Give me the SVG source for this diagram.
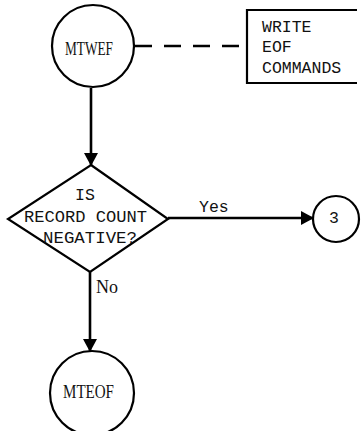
<svg xmlns="http://www.w3.org/2000/svg" width="361" height="431" viewBox="0 0 361 431">
<defs>
<style>
.shape{fill:none;stroke:#000;stroke-width:2.2}
.conn{fill:none;stroke:#000;stroke-width:2.6}
.mono{font-family:"Liberation Mono","Courier New",monospace;font-size:16.5px;fill:#111}
.serif{font-family:"Liberation Serif","Times New Roman",serif;font-size:18px;fill:#111}
</style>
<marker id="ah" markerWidth="16" markerHeight="14" refX="12" refY="7" orient="auto" markerUnits="userSpaceOnUse">
<path d="M0,0 L13,7 L0,14 Z" fill="#000"/>
</marker>
</defs>
<rect width="361" height="431" fill="#fff"/>
<g id="connectors">
<line class="conn" x1="135" y1="46" x2="247" y2="46" stroke-dasharray="17 12"/>
<line class="conn" x1="91" y1="88" x2="91" y2="165" marker-end="url(#ah)"/>
<line class="conn" x1="168" y1="218" x2="313" y2="218" marker-end="url(#ah)"/>
<text class="mono" x="199" y="212">Yes</text>
<line class="conn" x1="90" y1="272" x2="90" y2="351" marker-end="url(#ah)"/>
<text class="serif" x="96" y="293" font-size="16">No</text>
</g>
<g id="mtwef">
<circle class="shape" cx="93" cy="46" r="41"/>
<text class="serif" x="89" y="55" text-anchor="middle" textLength="48" lengthAdjust="spacingAndGlyphs">MTWEF</text>
</g>
<g id="write-eof">
<path class="shape" d="M357,10 H247 V83 H357"/>
<text class="mono" x="262" y="32">WRITE</text>
<text class="mono" x="262" y="52">EOF</text>
<text class="mono" x="262" y="73">COMMANDS</text>
</g>
<g id="decision">
<polygon class="shape" points="91,165 168,219 90,272 8,219"/>
<text class="mono" x="85" y="200" text-anchor="middle">IS</text>
<text class="mono" x="24" y="221.5" textLength="123" lengthAdjust="spacingAndGlyphs">RECORD COUNT</text>
<text class="mono" x="43" y="243" textLength="94" lengthAdjust="spacingAndGlyphs">NEGATIVE?</text>
</g>
<g id="connector-3">
<circle class="shape" cx="336" cy="219" r="23"/>
<text class="mono" x="334" y="223" text-anchor="middle" font-size="17">3</text>
</g>
<g id="mteof">
<circle class="shape" cx="92" cy="393" r="42"/>
<text class="serif" x="88.5" y="398" text-anchor="middle" textLength="51" lengthAdjust="spacingAndGlyphs">MTEOF</text>
</g>
</svg>
